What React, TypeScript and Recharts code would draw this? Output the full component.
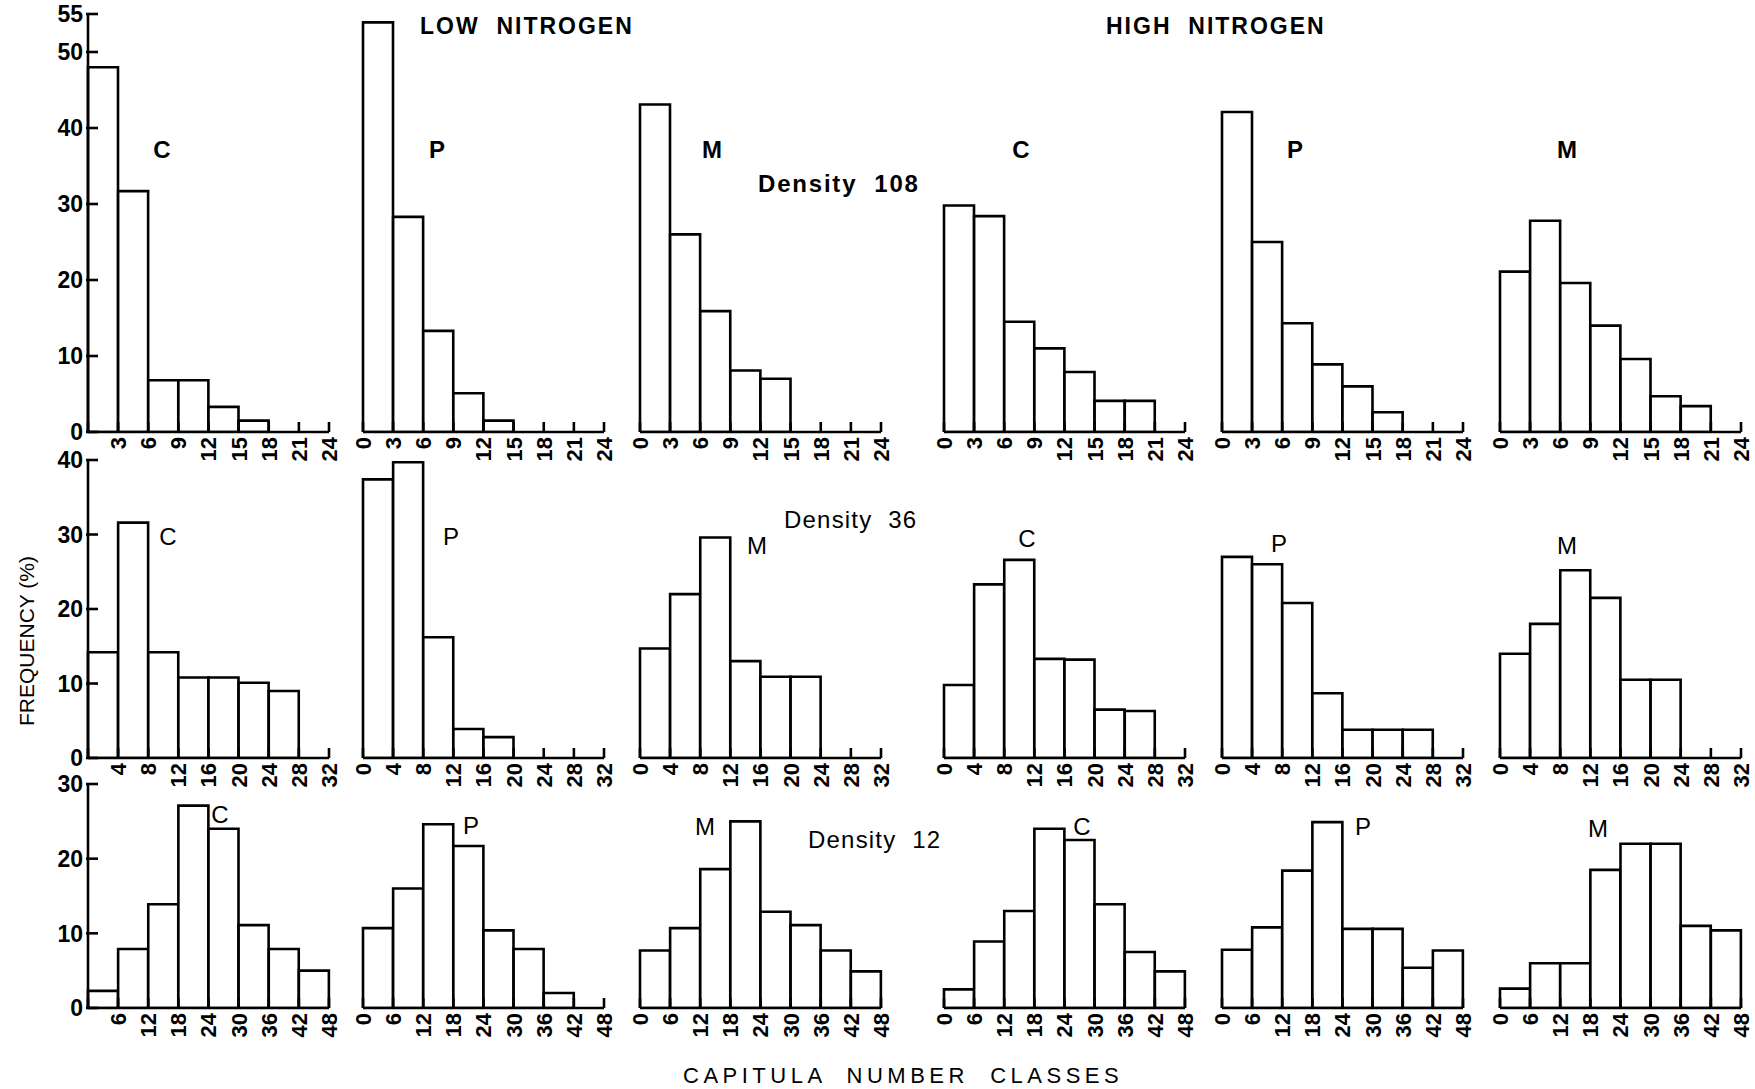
import React from 'react';
import { BarChart, Bar, XAxis, YAxis } from 'recharts';

// ---- bin lower bounds & tick labels ----
const bins108 = [0, 3, 6, 9, 12, 15, 18, 21];
const ticks108 = [0, 3, 6, 9, 12, 15, 18, 21, 24];
const bins36 = [0, 4, 8, 12, 16, 20, 24, 28];
const ticks36 = [0, 4, 8, 12, 16, 20, 24, 28, 32];
const bins12 = [0, 6, 12, 18, 24, 30, 36, 42];
const ticks12 = [0, 6, 12, 18, 24, 30, 36, 42, 48];

const yTicks108 = [0, 10, 20, 30, 40, 50, 55];
const yTicks36 = [0, 10, 20, 30, 40];
const yTicks12 = [0, 10, 20, 30];

// ---- frequency (%) values: Density 108 ----
const lowC108 = [48, 31.7, 6.8, 6.8, 3.3, 1.5, 0, 0];
const lowP108 = [53.9, 28.3, 13.3, 5.1, 1.5, 0, 0, 0];
const lowM108 = [43.1, 26, 15.9, 8.1, 7.0, 0, 0, 0];
const highC108 = [29.8, 28.4, 14.5, 11.0, 7.9, 4.1, 4.1, 0];
const highP108 = [42.1, 25, 14.3, 8.9, 6.0, 2.6, 0, 0];
const highM108 = [21.1, 27.8, 19.6, 14.0, 9.6, 4.7, 3.4, 0];

// ---- Density 36 ----
const lowC36 = [14.2, 31.6, 14.2, 10.8, 10.8, 10.1, 9.0, 0];
const lowP36 = [37.4, 39.7, 16.2, 3.9, 2.8, 0, 0, 0];
const lowM36 = [14.7, 22.0, 29.6, 13.0, 10.9, 10.9, 0, 0];
const highC36 = [9.8, 23.3, 26.6, 13.3, 13.2, 6.5, 6.3, 0];
const highP36 = [27, 26, 20.8, 8.7, 3.8, 3.8, 3.8, 0];
const highM36 = [14, 18, 25.2, 21.5, 10.5, 10.5, 0, 0];

// ---- Density 12 ----
const lowC12 = [2.3, 7.9, 13.9, 27.1, 24.0, 11.1, 7.9, 5.0];
const lowP12 = [10.7, 16.0, 24.6, 21.7, 10.4, 7.9, 2.0, 0];
const lowM12 = [7.7, 10.7, 18.6, 25.0, 12.9, 11.1, 7.7, 4.9];
const highC12 = [2.5, 8.9, 13.0, 24.0, 22.5, 13.9, 7.5, 4.9];
const highP12 = [7.8, 10.8, 18.4, 24.9, 10.6, 10.6, 5.4, 7.7];
const highM12 = [2.6, 6.0, 6.0, 18.5, 22.0, 22.0, 11.0, 10.4];

const FONT = '"Liberation Sans", Arial, sans-serif';
const PLOT_X = [88, 363, 640, 944, 1222, 1500];
const PW = 241;
const YW = 70;
const LP = 14;
const TP = 14;
const RP = 14;
const XH = 40;
const SW = 2.6;

const rows = [
  { bins: bins108, ticks: ticks108, yMax: 55, yTicks: yTicks108, top: 14, bottom: 432,
    series: [lowC108, lowP108, lowM108, highC108, highP108, highM108] },
  { bins: bins36, ticks: ticks36, yMax: 40, yTicks: yTicks36, top: 460, bottom: 758,
    series: [lowC36, lowP36, lowM36, highC36, highP36, highM36] },
  { bins: bins12, ticks: ticks12, yMax: 30, yTicks: yTicks12, top: 784, bottom: 1008,
    series: [lowC12, lowP12, lowM12, highC12, highP12, highM12] },
];

function XTick(props: any) {
  const { x, y, payload, skipZero } = props;
  const v = payload.value;
  const ty = y + 5;
  return (
    <g>
      <line x1={x} y1={y} x2={x} y2={y - 10} stroke="#000" strokeWidth={SW} />
      {!(skipZero && v === 0) && (
        <text
          x={x}
          y={ty}
          transform={`rotate(-90 ${x} ${ty})`}
          textAnchor="end"
          dy="0.36em"
          fontFamily={FONT}
          fontWeight="bold"
          fontSize={22}
          fill="#000"
        >
          {v}
        </text>
      )}
    </g>
  );
}

function YTick(props: any) {
  const { x, y, payload } = props;
  return (
    <g>
      <line x1={x - 2} y1={y} x2={x + 10} y2={y} stroke="#000" strokeWidth={SW} />
      <text x={x - 5} y={y} dy="0.36em" textAnchor="end" fontFamily={FONT} fontWeight="bold" fontSize={23} fill="#000">
        {payload.value}
      </text>
    </g>
  );
}

function Panel({ row, col }: { row: any; col: number }) {
  const showY = col === 0;
  const yw = showY ? YW : 0;
  const plotH = row.bottom - row.top;
  const width = LP + yw + PW + RP;
  const height = TP + plotH + XH;
  const vals: number[] = row.series[col];
  const data = row.bins.map((b: number, i: number) => ({ cls: String(b), lo: b, v: vals[i] }));
  const xMax = row.ticks[row.ticks.length - 1];
  return (
    <div style={{ position: 'absolute', left: PLOT_X[col] - yw - LP, top: row.top - TP }}>
      <BarChart
        width={width}
        height={height}
        data={data}
        margin={{ top: TP, right: RP, bottom: 0, left: LP }}
        barCategoryGap={0}
        barGap={0}
      >
        <XAxis xAxisId="cat" dataKey="cls" type="category" hide height={0} />
        <XAxis
          xAxisId="num"
          dataKey="lo"
          type="number"
          domain={[0, xMax]}
          ticks={row.ticks}
          interval={0}
          height={XH}
          tickSize={0}
          tickMargin={0}
          tickLine={false}
          axisLine={{ stroke: '#000', strokeWidth: SW }}
          tick={<XTick skipZero={showY} />}
          allowDataOverflow
        />
        {showY ? (
          <YAxis
            type="number"
            domain={[0, row.yMax]}
            ticks={row.yTicks}
            interval={0}
            width={YW}
            tickSize={0}
            tickMargin={0}
            tickLine={false}
            axisLine={{ stroke: '#000', strokeWidth: SW }}
            tick={<YTick />}
            allowDataOverflow
          />
        ) : (
          <YAxis hide type="number" domain={[0, row.yMax]} allowDataOverflow width={0} />
        )}
        <Bar xAxisId="cat" dataKey="v" fill="#fff" stroke="#000" strokeWidth={SW} isAnimationActive={false} />
      </BarChart>
    </div>
  );
}

const panelLetters = [
  { t: 'C', x: 162, y: 158, b: true }, { t: 'P', x: 437, y: 158, b: true }, { t: 'M', x: 712, y: 158, b: true },
  { t: 'C', x: 1021, y: 158, b: true }, { t: 'P', x: 1295, y: 158, b: true }, { t: 'M', x: 1567, y: 158, b: true },
  { t: 'C', x: 168, y: 545, b: false }, { t: 'P', x: 451, y: 545, b: false }, { t: 'M', x: 757, y: 554, b: false },
  { t: 'C', x: 1027, y: 547, b: false }, { t: 'P', x: 1279, y: 552, b: false }, { t: 'M', x: 1567, y: 554, b: false },
  { t: 'C', x: 220, y: 823, b: false }, { t: 'P', x: 471, y: 834, b: false }, { t: 'M', x: 705, y: 835, b: false },
  { t: 'C', x: 1082, y: 835, b: false }, { t: 'P', x: 1363, y: 835, b: false }, { t: 'M', x: 1598, y: 837, b: false },
];

export default function App() {
  return (
    <div style={{ position: 'absolute', left: 0, top: 0, width: 1755, height: 1089, background: '#fff', overflow: 'hidden' }}>
      {rows.map((row, r) => [0, 1, 2, 3, 4, 5].map((c) => <Panel key={`${r}-${c}`} row={row} col={c} />))}
      <svg width={1755} height={1089} style={{ position: 'absolute', left: 0, top: 0, pointerEvents: 'none' }}>
        <g fontFamily={FONT} fill="#000">
          <text x={420} y={34} fontSize={23} fontWeight="bold" letterSpacing={2} style={{ whiteSpace: 'pre' }}>LOW  NITROGEN</text>
          <text x={1106} y={34} fontSize={23} fontWeight="bold" letterSpacing={2} style={{ whiteSpace: 'pre' }}>HIGH  NITROGEN</text>
          <text x={758} y={192} fontSize={24} fontWeight="bold" letterSpacing={1.8} style={{ whiteSpace: 'pre' }}>Density  108</text>
          <text x={784} y={528} fontSize={24} letterSpacing={1.2} style={{ whiteSpace: 'pre' }}>Density  36</text>
          <text x={808} y={848} fontSize={24} letterSpacing={1.2} style={{ whiteSpace: 'pre' }}>Density  12</text>
          {panelLetters.map((p, i) => (
            <text key={i} x={p.x} y={p.y} fontSize={24} fontWeight={p.b ? 'bold' : 'normal'} textAnchor="middle">{p.t}</text>
          ))}
          <text x={34} y={641} fontSize={21} textAnchor="middle" transform="rotate(-90 34 641)">FREQUENCY (%)</text>
          <text x={683} y={1083} fontSize={22} letterSpacing={4.5} style={{ whiteSpace: 'pre' }}>CAPITULA  NUMBER  CLASSES</text>
        </g>
      </svg>
    </div>
  );
}
